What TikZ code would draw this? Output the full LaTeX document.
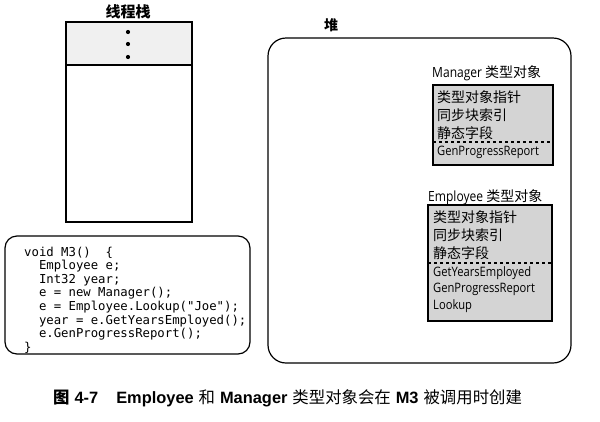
\documentclass[tikz,border=0pt]{standalone}
\usepackage{fontspec}
\newfontfamily\cjk{Noto Sans CJK SC}
\newfontfamily\lat{Open Sans}[FakeStretch=0.86]
\newfontfamily\arialf{Liberation Sans}
\newfontfamily\codef{DejaVu Sans Mono}
\begin{document}
\begin{tikzpicture}[x=1pt,y=-1pt,
  box/.style={draw=black, line width=1.3pt},
  typefill/.style={fill=black!17},
  line/.style={anchor=west, inner sep=0pt, font=\fontsize{14}{16}\selectfont},
  engline/.style={anchor=west, inner sep=0pt, font=\lat\fontsize{13}{15}\selectfont},
  codetext/.style={anchor=north west, inner sep=0pt, align=left, font=\codef\fontsize{12.3}{13.6}\selectfont},
  title/.style={inner sep=0pt, font=\cjk\bfseries\fontsize{15}{17}\selectfont}]
\useasboundingbox (0,0) rectangle (600,421);
% thread stack
\node[title] (stacktitle) at (128,12) {线程栈};
\fill[black!6] (66,22) rectangle (192,65);
\draw[box, line width=1.5pt] (66,22) rectangle (192,222);
\draw[line width=1.5pt] (66,65) -- (192,65);
\foreach \yy/\nm in {32/d1,44/d2,57/d3}
  \fill (128,\yy) circle (2.1pt) coordinate (\nm);
% code
\draw[line width=1.2pt, rounded corners=12pt] (5,236) rectangle (250,354);
\node[codetext] (code) at (24,246.5) {void M3()\ \ \{\\
\phantom{ee}Employee e;\\
\phantom{ee}Int32 year;\\
\phantom{ee}e = new Manager();\\
\phantom{ee}e = Employee.Lookup("Joe");\\
\phantom{ee}year = e.GetYearsEmployed();\\
\phantom{ee}e.GenProgressReport();\\
\}};
% heap
\node[title, font=\cjk\bfseries\fontsize{14}{16}\selectfont] (heaptitle) at (331,25) {堆};
\draw[line width=1.2pt, rounded corners=18pt] (268,38) rectangle (571,363);
% Manager type object
\node[line] (mlabel) at (432,73) {\lat Manager \cjk 类型对象};
\draw[box, typefill] (433,85) rectangle (553,165);
\draw[dashed, line width=1.2pt] (433,142) -- (553,142);
\node[line] (m1) at (437,97) {\cjk 类型对象指针};
\node[line] (m2) at (437,115) {\cjk 同步块索引};
\node[line] (m3) at (437,133) {\cjk 静态字段};
\node[engline] (m4) at (437,152) {GenProgressReport};
% Employee type object
\node[line] (elabel) at (428,197) {\lat Employee \cjk 类型对象};
\draw[box, typefill] (428,205) rectangle (552,321);
\draw[dashed, line width=1.2pt] (428,263) -- (552,263);
\node[line] (e1) at (433,217) {\cjk 类型对象指针};
\node[line] (e2) at (433,235) {\cjk 同步块索引};
\node[line] (e3) at (433,253) {\cjk 静态字段};
\node[engline] (e4) at (433,273) {GetYearsEmployed};
\node[engline] (e5) at (433,289) {GenProgressReport};
\node[engline] (e6) at (433,306) {Lookup};
% caption
\node[anchor=west, inner sep=0pt, font=\fontsize{16.4}{18}\selectfont] (caption) at (53,398)
  {{\cjk\bfseries 图} {\arialf\bfseries 4-7}\hspace{1.1em}{\arialf\bfseries Employee} {\cjk 和} {\arialf\bfseries Manager} {\cjk 类型对象会在} {\arialf\bfseries M3} {\cjk 被调用时创建}};
\end{tikzpicture}
\end{document}
